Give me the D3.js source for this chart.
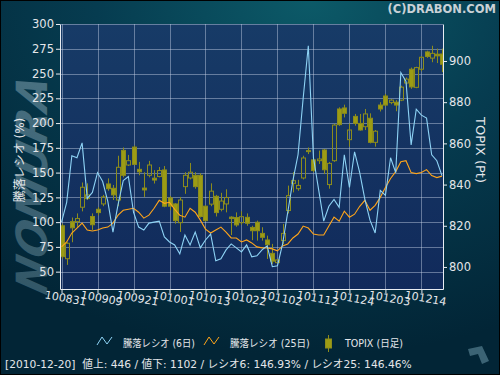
<!DOCTYPE html>
<html>
<head>
<meta charset="utf-8">
<script src="https://cdn.jsdelivr.net/npm/d3@7"></script>
<style>
  body { margin: 0; background: #000; }
  svg { display: block; }
</style>
</head>
<body>
<div id="chart"></div>
<script>
// date tick labels (every 7 trading days)
const tickLabels = ["100831", "100909", "100921", "101001", "101013", "101022", "101102", "101112", "101124", "101203", "101214"];
const tickIdx = [0, 7, 14, 21, 28, 35, 42, 49, 56, 63, 70];
const leftTicks = [50, 75, 100, 125, 150, 175, 200, 225, 250, 275, 300];
const rightTicks = [800, 820, 840, 860, 880, 900];

// 騰落レシオ 6日
const ratio6 = [100, 120, 167, 165, 180, 124, 130, 150, 141, 121,
  90, 118, 142, 146, 110, 95, 92, 99, 100, 101,
  85, 80, 77, 68, 87, 77, 90, 74, 82, 88,
  61, 63, 72, 78, 74, 70, 77, 65, 66, 72,
  76, 55, 56, 78, 110, 142, 168, 225, 278, 165,
  133, 101, 116, 123, 115, 168, 135, 171, 150, 123,
  102, 89, 132, 127, 165, 150, 251, 242, 178, 214,
  208, 205, 168, 162, 146.93];

// 騰落レシオ 25日
const ratio25 = [75, 80, 89, 94, 99, 92, 91, 92, 94, 95,
  99, 107, 112, 113, 114, 110, 104, 107, 114, 122,
  119, 120, 113, 107, 105, 114, 110, 102, 93, 89,
  92, 95, 90, 84, 84, 80, 82, 79, 75, 74,
  74, 73, 71, 76, 78, 84, 88, 96, 94, 88,
  87, 87, 96, 105, 101, 111, 105, 108, 116, 122,
  112, 117, 125, 135, 144, 151, 161, 162, 150, 149,
  150, 153, 147, 145, 146.46];

// TOPIX daily candles
const topixOpen = [820, 804, 822, 822, 829, 833.3, 824.5, 828, 830.6, 840.3,
  838.2, 832.5, 856.6, 849.5, 858.2, 847.4, 838.3, 844.5, 843.1, 843.9,
  847.1, 833.5, 830.6, 821.5, 839, 843.2, 844.5, 844.5, 829.5, 830.5,
  834.3, 828, 830.6, 824.2, 824, 821.5, 824.1, 819.2, 821.7, 816.3,
  813.1, 806.6, 802.1, 812.8, 827.4, 840.6, 838, 843.2, 856, 852,
  851.6, 856.8, 840, 851.6, 876.7, 877.2, 861.8, 873.1, 869.7, 868.1,
  872.2, 860.5, 878.6, 883, 879.8, 880, 881, 889.3, 896, 887.2,
  896, 904.4, 901.4, 903.3, 903.4];
const topixHigh = [821, 812, 824, 826, 841, 840.6, 826, 829, 835, 843,
  839.8, 854, 858, 854.4, 859, 851, 846, 851.5, 847, 848.5,
  849, 834.5, 831, 834, 846, 850.5, 846, 845.5, 830, 840.6,
  835, 836, 837.7, 824.6, 826.5, 827, 826, 820, 822.5, 819.3,
  815.2, 811.2, 803.9, 820.9, 839.5, 846, 842.3, 854, 858, 853,
  856.5, 857.3, 851, 869.5, 877.5, 878.8, 869.7, 874.3, 874.3, 876.7,
  874.6, 866.5, 880, 884, 881.5, 881, 888, 892, 896.8, 897.2,
  902.3, 905, 907.4, 906, 906];
const topixLow = [804, 801, 812, 819.5, 827, 832.5, 818, 825, 829.5, 837,
  832.5, 829.5, 843.5, 849, 849.5, 844.5, 834, 843.5, 840.5, 843.5,
  829, 827.5, 821, 817, 835.5, 842.5, 838, 824, 822, 829.5,
  824.5, 827, 826.5, 815.5, 819.5, 820.5, 820, 813, 812.8, 812.8,
  803.9, 801.5, 801.8, 811, 826, 836.2, 837, 842.5, 854.8, 846,
  850, 845.1, 838, 851, 868.5, 872.6, 858.4, 868.6, 866.2, 866.5,
  860, 858.4, 875.5, 878, 879, 875.6, 880.5, 888.5, 886.5, 886.8,
  895, 901.5, 899.4, 899, 894.6];
const topixClose = [805, 811.5, 819, 823.5, 838.7, 835, 820.5, 826.4, 834, 838,
  835, 848.4, 844.5, 851.6, 849.8, 846.2, 837.4, 849.5, 842.2, 846.8,
  829.5, 829.5, 822.5, 832.5, 844.5, 846, 839, 824.5, 822.5, 836.8,
  826.4, 832, 833.7, 823.5, 820.4, 824.4, 821.2, 817.6, 817.6, 814.4,
  810.8, 802.8, 803.4, 816.3, 834.6, 841.9, 839.6, 852.9, 856.5, 846.8,
  852.4, 847.2, 850.3, 868.9, 869.1, 874.6, 866.5, 869.7, 866.5, 874.3,
  860.5, 865.9, 876.7, 878.6, 881, 878.6, 887.3, 891.2, 887.4, 896.8,
  901.8, 902.2, 903.7, 902.5, 898.4];

const statusLine = "[2010-12-20]\u00a0\u00a0値上: 446 / 値下: 1102 / レシオ6: 146.93% / レシオ25: 146.46%";

const W = 500, H = 375;
const plot = { left: 60, right: 443, top: 24, bottom: 289 };
const FONT = "'DejaVu Sans', 'Noto Sans CJK JP', sans-serif";
const TEXT = "#e4e6ea";
const candleFill = "#9c9c14", candleStroke = "#8c8c1c";

const svg = d3.select("#chart").append("svg")
  .attr("width", W).attr("height", H)
  .style("font-family", FONT);

// text squeezed horizontally so that it spans the given width
function fitText(parent, x, y, w, str, size) {
  const g = parent.append("g").attr("transform", `translate(${x},${y})`);
  const t = g.append("text").style("font-size", size).attr("fill", TEXT).text(str);
  const len = t.node().getComputedTextLength ? t.node().getComputedTextLength() : 0;
  if (len > w) t.attr("transform", `scale(${w / len},1)`);
  return t;
}

const defs = svg.append("defs");
const bg = defs.append("radialGradient").attr("id", "bg")
  .attr("cx", "62%").attr("cy", "0%").attr("r", "95%");
bg.append("stop").attr("offset", "0%").attr("stop-color", "#0c5a68");
bg.append("stop").attr("offset", "45%").attr("stop-color", "#063c50");
bg.append("stop").attr("offset", "100%").attr("stop-color", "#022536");
const pg = defs.append("linearGradient").attr("id", "pbg")
  .attr("x1", 0).attr("y1", 0).attr("x2", 0).attr("y2", 1);
pg.append("stop").attr("offset", "0%").attr("stop-color", "#173b67");
pg.append("stop").attr("offset", "100%").attr("stop-color", "#112a5b");
const wg = defs.append("linearGradient").attr("id", "wm")
  .attr("x1", 0).attr("y1", 0).attr("x2", 1).attr("y2", 0);
wg.append("stop").attr("offset", "0%").attr("stop-color", "#3f6474");
wg.append("stop").attr("offset", "100%").attr("stop-color", "#5a8090");
defs.append("clipPath").attr("id", "clip").append("rect")
  .attr("x", plot.left).attr("y", plot.top)
  .attr("width", plot.right - plot.left).attr("height", plot.bottom - plot.top);

svg.append("rect").attr("width", W).attr("height", H).attr("fill", "url(#bg)");

// watermark logo text on the left
svg.append("text")
  .attr("transform", "translate(47,188) rotate(-90) skewX(-14)")
  .attr("text-anchor", "middle")
  .style("font-size", "43px").style("font-weight", "bold").style("font-style", "italic")
  .attr("fill", "url(#wm)").attr("opacity", 0.8)
  .text("NOMURA");

// small logo bottom right
svg.append("path")
  .attr("d", "M468,349 L482,346 L489,361 L482,364 L478,354 L470,356 Z")
  .attr("fill", "#3b6374");

svg.append("text")
  .attr("x", 496).attr("y", 13).attr("text-anchor", "end")
  .style("font-size", "11.5px").style("font-weight", "bold")
  .attr("fill", "#c9d1d6")
  .text("(C)DRABON.COM");

svg.append("rect")
  .attr("x", plot.left).attr("y", plot.top)
  .attr("width", plot.right - plot.left).attr("height", plot.bottom - plot.top)
  .attr("fill", "url(#pbg)");

const x = d3.scaleLinear().domain([-0.3, 74.2]).range([plot.left, plot.right]);
const yL = d3.scaleLinear().domain([32.5, 300]).range([plot.bottom, plot.top]);
const yR = d3.scaleLinear().domain([789.3, 917.96]).range([plot.bottom, plot.top]);

// grid
const grid = svg.append("g").attr("stroke", "#c8d2e6").attr("stroke-opacity", 0.45).attr("stroke-width", 1);
grid.selectAll("line.h").data(leftTicks).join("line")
  .attr("x1", plot.left).attr("x2", plot.right)
  .attr("y1", d => Math.round(yL(d)) + 0.5).attr("y2", d => Math.round(yL(d)) + 0.5);
grid.selectAll("line.v").data(tickIdx).join("line")
  .attr("y1", plot.top).attr("y2", plot.bottom)
  .attr("x1", d => Math.round(x(d)) + 0.5).attr("x2", d => Math.round(x(d)) + 0.5);

// candles
const candles = svg.append("g").attr("clip-path", "url(#clip)");
const idx = d3.range(topixOpen.length);
idx.forEach(i => {
  const o = topixOpen[i], c = topixClose[i];
  const cx = Math.round(x(i)) + 0.5;
  const top = yR(Math.max(o, c)), bot = yR(Math.min(o, c));
  const down = c < o;
  candles.append("line").attr("x1", cx).attr("x2", cx)
    .attr("y1", yR(topixHigh[i])).attr("y2", top)
    .attr("stroke", candleStroke);
  candles.append("line").attr("x1", cx).attr("x2", cx)
    .attr("y1", bot).attr("y2", yR(topixLow[i]))
    .attr("stroke", candleStroke);
  candles.append("rect")
    .attr("x", cx - 2).attr("width", 4)
    .attr("y", top).attr("height", Math.max(1, bot - top))
    .attr("fill", down ? candleFill : "none")
    .attr("stroke", candleStroke).attr("stroke-width", 1);
});

const line = d3.line().x((d, i) => x(i)).y(d => yL(d));
svg.append("path").datum(ratio25).attr("clip-path", "url(#clip)")
  .attr("d", line).attr("fill", "none").attr("stroke", "#ffa51a").attr("stroke-width", 1.1);
svg.append("path").datum(ratio6).attr("clip-path", "url(#clip)")
  .attr("d", line).attr("fill", "none").attr("stroke", "#8ed3f5").attr("stroke-width", 1.1);

// axes
function styleAxis(g) {
  g.select(".domain").attr("stroke", "#e8ecf2");
  g.selectAll(".tick line").attr("stroke", "#e8ecf2");
  g.selectAll(".tick text").attr("fill", TEXT).style("font-size", "11.5px").style("font-family", FONT);
}
svg.append("g").attr("transform", `translate(${plot.left},0)`)
  .call(d3.axisLeft(yL).tickValues(leftTicks).tickSize(4).tickSizeOuter(0).tickPadding(2))
  .call(styleAxis);
svg.append("g").attr("transform", `translate(${plot.right},0)`)
  .call(d3.axisRight(yR).tickValues(rightTicks).tickSize(4).tickSizeOuter(0).tickPadding(2))
  .call(styleAxis);
const xAxis = svg.append("g").attr("transform", `translate(0,${plot.bottom})`)
  .call(d3.axisBottom(x).tickValues(tickIdx).tickSize(4).tickSizeOuter(0)
    .tickFormat((d, i) => tickLabels[i]))
  .call(styleAxis);
xAxis.selectAll(".tick text")
  .attr("y", 0).attr("dy", 0)
  .attr("transform", "translate(3,13) rotate(10)")
  .attr("text-anchor", "middle")
  .style("font-size", "11px");

// axis titles
svg.append("text")
  .attr("transform", "translate(24,160) rotate(-90)")
  .attr("text-anchor", "middle")
  .style("font-size", "12px").attr("fill", TEXT)
  .text("騰落レシオ (%)");
svg.append("text")
  .attr("transform", "translate(476,150) rotate(90)")
  .attr("text-anchor", "middle")
  .style("font-size", "13px").attr("fill", TEXT)
  .text("TOPIX (Pt)");

// legend
const lg = svg.append("g");
const zig = [[0, 8], [5, 0], [10, 7], [15, 0]];
lg.append("path").attr("d", d3.line()(zig.map(p => [97 + p[0], 337 + p[1]])))
  .attr("fill", "none").attr("stroke", "#8ed3f5");
fitText(lg, 123, 347, 72, "騰落レシオ (6日)", "10.5px");
lg.append("path").attr("d", d3.line()(zig.map(p => [204 + p[0], 337 + p[1]])))
  .attr("fill", "none").attr("stroke", "#ffa51a");
fitText(lg, 230, 347, 80, "騰落レシオ (25日)", "10.5px");
lg.append("line").attr("x1", 328.5).attr("x2", 328.5).attr("y1", 335).attr("y2", 352)
  .attr("stroke", candleStroke);
lg.append("rect").attr("x", 325.5).attr("y", 339).attr("width", 6).attr("height", 9)
  .attr("fill", candleFill).attr("stroke", candleStroke);
fitText(lg, 345, 347, 58, "TOPIX (日足)", "10.5px");

// status line
fitText(svg, 5, 368, 407, statusLine, "11px");

svg.append("rect").attr("x", 0.5).attr("y", 0.5).attr("width", W - 1).attr("height", H - 1)
  .attr("fill", "none").attr("stroke", "#000");
</script>
</body>
</html>
